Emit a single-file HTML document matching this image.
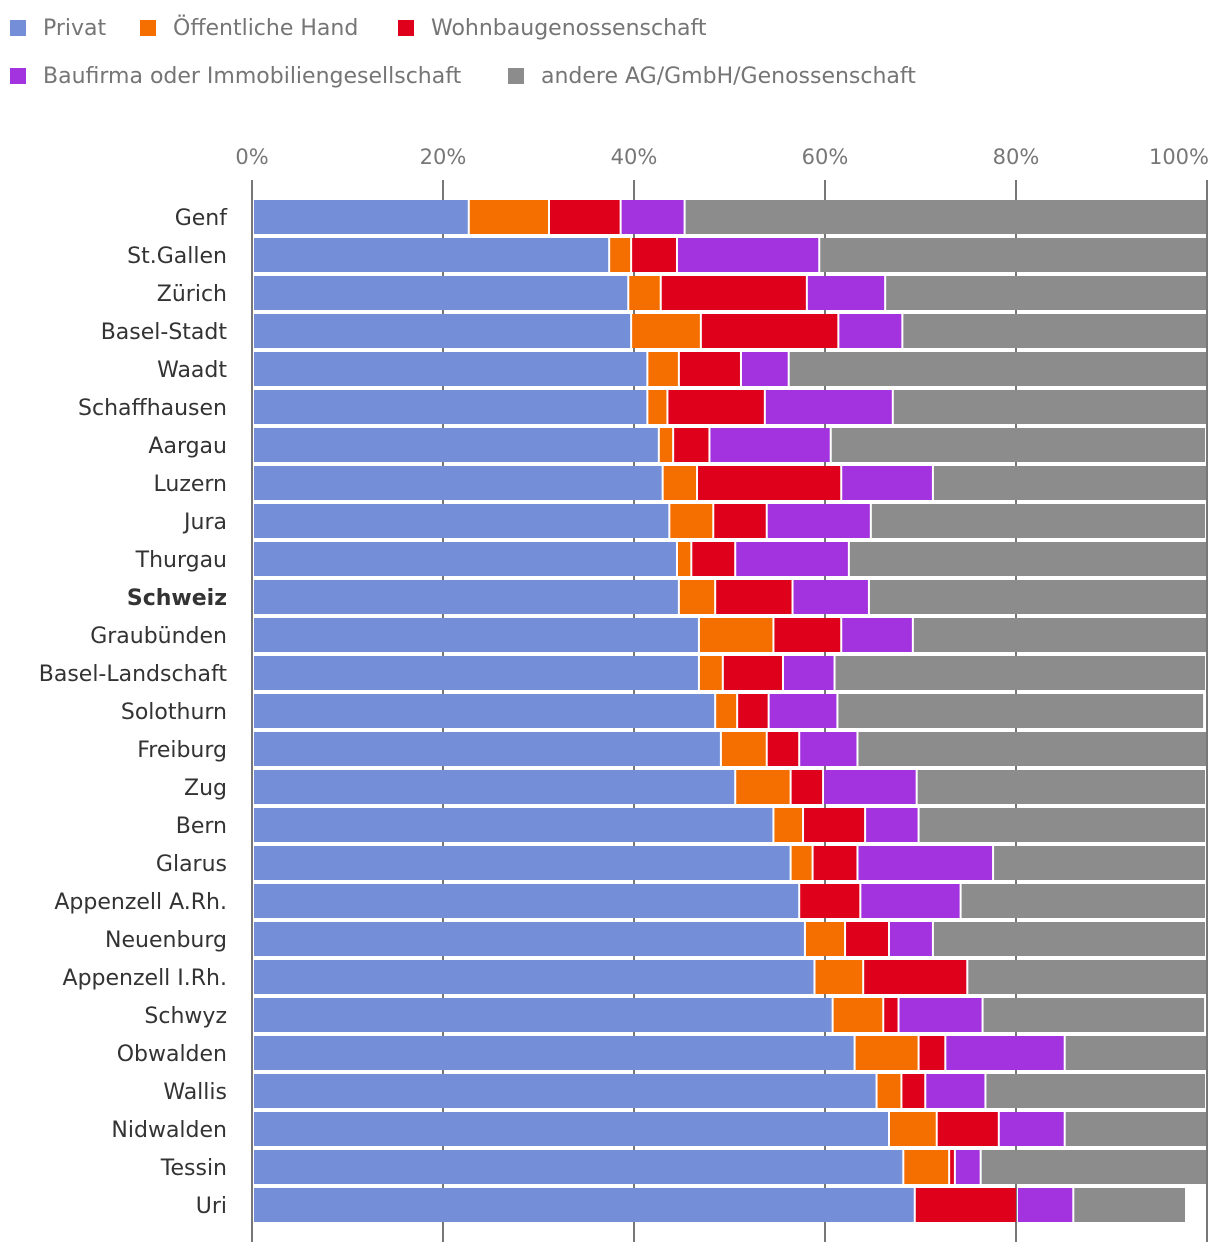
<!DOCTYPE html>
<html><head><meta charset="utf-8"><style>
body{margin:0;background:#fff;font-family:"DejaVu Sans","Liberation Sans",sans-serif;}
svg text{font-family:"DejaVu Sans","Liberation Sans",sans-serif;}
</style></head><body>
<svg id="chart" width="1220" height="1254" xmlns="http://www.w3.org/2000/svg">
<g id="legend"></g>
<g id="grid"></g>
<g id="bars"></g>
<g id="labels"></g>
</svg>
<script>
const categories=["Genf","St.Gallen","Zürich","Basel-Stadt","Waadt","Schaffhausen","Aargau","Luzern","Jura","Thurgau","Schweiz","Graubünden","Basel-Landschaft","Solothurn","Freiburg","Zug","Bern","Glarus","Appenzell A.Rh.","Neuenburg","Appenzell I.Rh.","Schwyz","Obwalden","Wallis","Nidwalden","Tessin","Uri"];
const seriesNames=["Privat","Öffentliche Hand","Wohnbaugenossenschaft","Baufirma oder Immobiliengesellschaft","andere AG/GmbH/Genossenschaft"];
const privat=[22.7,37.4,39.4,39.7,41.4,41.4,42.6,43.0,43.7,44.5,44.7,46.8,46.8,48.5,49.1,50.6,54.6,56.4,57.3,57.9,58.9,60.8,63.1,65.4,66.7,68.2,69.4];
const oeffentlich=[8.4,2.3,3.4,7.3,3.3,2.1,1.5,3.6,4.6,1.5,3.8,7.8,2.5,2.3,4.8,5.8,3.1,2.3,0,4.2,5.1,5.3,6.7,2.6,5.0,4.8,0];
const wohnbau=[7.5,4.8,15.3,14.4,6.5,10.2,3.8,15.1,5.6,4.6,8.1,7.1,6.3,3.3,3.4,3.4,6.5,4.7,6.4,4.6,10.9,1.6,2.8,2.5,6.5,0.6,10.7];
const baufirma=[6.7,14.9,8.2,6.7,5.0,13.4,12.7,9.6,10.9,11.9,8.0,7.5,5.4,7.2,6.1,9.8,5.6,14.2,10.5,4.6,0,8.8,12.5,6.3,6.9,2.7,5.9];
const andere=[54.7,40.6,33.7,31.9,43.8,32.9,39.3,28.7,35.1,37.5,35.4,30.8,38.9,38.4,36.6,30.3,30.1,22.3,25.7,28.6,25.1,23.3,14.9,23.1,14.9,23.7,11.8];
const tickValues=[0,20,40,60,80,100];
const tickLabels=["0%","20%","40%","60%","80%","100%"];
const colors=["#748fd8","#f56e00","#df001b","#a333de","#8c8c8c"];
const NS="http://www.w3.org/2000/svg";
const x0=252,x1=1207,rowTop=200,rowStep=38,barH=34;
const xs=v=>x0+(x1-x0)*v/100;
function mk(tag,attrs,parent){const e=document.createElementNS(NS,tag);for(const k in attrs)e.setAttribute(k,attrs[k]);parent.appendChild(e);return e;}
const legend=document.getElementById('legend');
const legPos=[[10,28],[140,28],[398,28],[10,76],[508,76]];
seriesNames.forEach((n,i)=>{
  const r=mk('rect',{x:legPos[i][0],y:legPos[i][1]-8,width:16,height:16,fill:colors[i]},legend);
  
  
  const t=mk('text',{x:legPos[i][0]+33,y:legPos[i][1]+7,'font-size':22,fill:'#757575'},legend);
  t.textContent=n;
  
  
});
const grid=document.getElementById('grid');
tickValues.forEach((v,i)=>{
  const l=mk('line',{x1:xs(v),x2:xs(v),y1:180,y2:1242,stroke:'#777','stroke-width':2},grid);
  
  
  const t=mk('text',{x:xs(v),y:164,'font-size':21,fill:'#777','text-anchor':i==5?'end':'middle'},grid);
  if(i==5)t.setAttribute('x',xs(v)+2);
  t.textContent=tickLabels[i];
  
  
});
const bars=document.getElementById('bars'),labels=document.getElementById('labels');
const series=[privat,oeffentlich,wohnbau,baufirma,andere];
categories.forEach((c,r)=>{
  const y=rowTop+r*rowStep;let acc=0;
  series.forEach((s,k)=>{
    const v=s[r];if(v<=0){return;}
    const a=xs(acc),b=xs(acc+v);acc+=v;
    const rect=mk('rect',{x:a+(k==0?2:1),y:y,width:Math.max(0,b-a-(k==0?2:1)-1),height:barH,fill:colors[k]},bars);
    
    
  });
  const t=mk('text',{x:227,y:y+25,'font-size':22,fill:'#333','text-anchor':'end','font-weight':c=="Schweiz"?'bold':'normal'},labels);
  t.textContent=c;
  
  
});
</script>
</body></html>
